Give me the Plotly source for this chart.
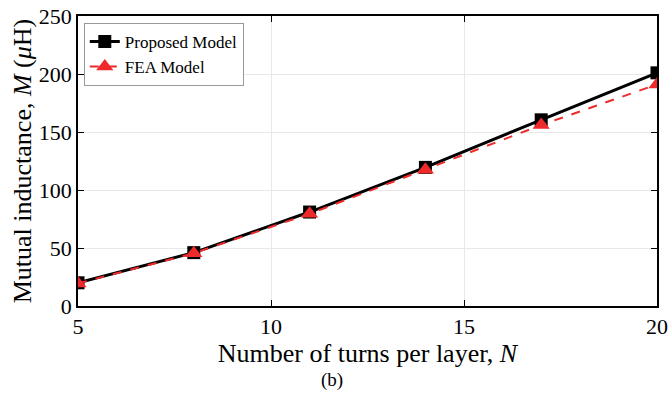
import plotly.graph_objects as go

N = [5, 8, 11, 14, 17, 20]
proposed = [20, 46, 81, 119.5, 160.5, 201]
fea = [19.5, 45.5, 79.5, 117.5, 156, 191]
x_ticks = [5, 10, 15, 20]
y_ticks = [0, 50, 100, 150, 200, 250]

FONT = "Liberation Serif"

fig = go.Figure()
fig.add_trace(go.Scatter(
    x=N, y=proposed, mode="lines+markers", name="Proposed Model",
    line=dict(color="black", width=3),
    marker=dict(symbol="square", size=13, color="black"),
))
fig.add_trace(go.Scatter(
    x=N, y=fea, mode="lines+markers", name="FEA Model",
    line=dict(color="#ee2a2a", width=2, dash="dash"),
    marker=dict(symbol="triangle-up", size=15, color="#ee2a2a"),
))

fig.update_layout(
    width=668, height=398,
    margin=dict(l=78, r=11, t=16, b=92, autoexpand=False),
    paper_bgcolor="white", plot_bgcolor="white",
    font=dict(family=FONT, size=18, color="black"),
    showlegend=True,
    legend=dict(
        x=0.01, y=0.976, xanchor="left", yanchor="top",
        bgcolor="white", bordercolor="#999999", borderwidth=1,
        font=dict(family=FONT, size=17, color="black"),
        itemwidth=30, tracegroupgap=0,
    ),
    xaxis=dict(
        range=[5, 20], tickvals=x_ticks, ticktext=[str(v) for v in x_ticks],
        showgrid=True, gridcolor="#e8e8e8", gridwidth=1,
        showline=True, linecolor="black", linewidth=1.5, mirror="ticks",
        ticks="inside", ticklen=6, tickcolor="black",
        zeroline=False, automargin=False,
        tickfont=dict(family=FONT, size=22),
        title=dict(text="Number of turns per layer, <i>N</i>",
                   font=dict(family=FONT, size=26), standoff=0),
    ),
    yaxis=dict(
        range=[0, 250], tickvals=y_ticks, ticktext=[str(v) for v in y_ticks],
        showgrid=True, gridcolor="#e8e8e8", gridwidth=1,
        showline=True, linecolor="black", linewidth=1.5, mirror="ticks",
        ticks="inside", ticklen=6, tickcolor="black",
        zeroline=False, automargin=False,
        tickfont=dict(family=FONT, size=22),
        title=dict(text="Mutual inductance, <i>M</i> (<i>μ</i>H)",
                   font=dict(family=FONT, size=26), standoff=0),
    ),
)

fig.add_annotation(
    text="(b)", xref="paper", yref="paper", x=0.439, y=-0.255,
    xanchor="center", yanchor="middle", showarrow=False,
    font=dict(family=FONT, size=19, color="black"),
)

fig.write_html(
    "out.html",
    config={"displayModeBar": False},
    post_script="document.body.style.margin='0';document.body.style.padding='0';",
)
